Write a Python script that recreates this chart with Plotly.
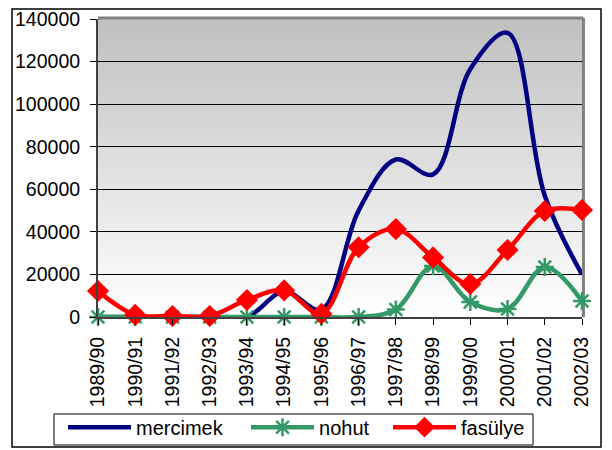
import plotly.graph_objects as go

# --- data ---
seasons = ['1989/90', '1990/91', '1991/92', '1992/93', '1993/94', '1994/95', '1995/96',
           '1996/97', '1997/98', '1998/99', '1999/00', '2000/01', '2001/02', '2002/03']
mercimek = [0, 0, 0, 0, 0, 12000, 3500, 50000, 74000, 67000, 116500, 133500, 57000, 20000]
nohut = [0, 0, 0, 0, 0, 0, 0, 0, 3500, 24000, 7000, 3800, 23500, 7500]
fasulye = [12200, 1000, 500, 500, 8000, 12500, 1500, 32800, 41300, 28000, 15500, 31500, 49800, 50300]

y_ticks = [0, 20000, 40000, 60000, 80000, 100000, 120000, 140000]

FONT = 'Liberation Sans, Arial, sans-serif'

fig = go.Figure()

fig.add_trace(go.Scatter(
    x=seasons, y=mercimek, name='mercimek', mode='lines', legend='legend',
    line=dict(color='#000080', width=4.5, shape='spline', smoothing=1),
    cliponaxis=False,
))
fig.add_trace(go.Scatter(
    x=seasons, y=nohut, name='nohut', mode='lines+markers', legend='legend2',
    line=dict(color='#339966', width=4.5, shape='spline', smoothing=1),
    marker=dict(symbol='asterisk-open', size=15, line=dict(color='#339966', width=2.5)),
    cliponaxis=False,
))
fig.add_trace(go.Scatter(
    x=seasons, y=fasulye, name='fasülye', mode='lines+markers', legend='legend3',
    line=dict(color='#ff0000', width=4.5, shape='spline', smoothing=1),
    marker=dict(symbol='diamond', size=17, color='#ff0000'),
    cliponaxis=False,
))

# gradient plot background (grey at the top, fading to white at the bottom)
shapes = []
n_bands = 80
for i in range(n_bands):
    t = i / (n_bands - 1)
    c = int(round(255 - (255 - 192) * t))
    shapes.append(dict(
        type='rect', xref='x domain', yref='y domain', layer='below',
        x0=0, x1=1, y0=i / n_bands, y1=(i + 1) / n_bands + 0.002,
        fillcolor=f'rgb({c},{c},{c})', line=dict(width=0),
    ))
# grey frame round the plot area
shapes.append(dict(type='line', xref='paper', yref='paper', layer='below',
                   x0=0, x1=1.003, y0=1.003, y1=1.003, line=dict(color='#808080', width=3)))
shapes.append(dict(type='line', xref='paper', yref='paper', layer='below',
                   x0=1.003, x1=1.003, y0=0, y1=1.003, line=dict(color='#808080', width=3)))
# outer chart border
shapes.append(dict(type='rect', xref='paper', yref='paper',
                   x0=-0.1777, x1=1.0393, y0=-0.4362, y1=1.0336,
                   line=dict(color='black', width=1.5)))
# legend box (three separate legends sit inside it)
shapes.append(dict(type='rect', xref='paper', yref='paper',
                   x0=-0.0909, x1=0.8988, y0=-0.4295, y1=-0.3255,
                   fillcolor='white', line=dict(color='black', width=1)))

leg_common = dict(
    orientation='h', yanchor='middle', y=-0.3696, xanchor='left',
    bgcolor='rgba(0,0,0,0)', borderwidth=0,
    font=dict(family=FONT, size=20, color='black'),
    itemwidth=63,
)

fig.update_layout(
    width=612, height=450,
    margin=dict(l=90, r=38, t=11, b=141, autoexpand=False),
    paper_bgcolor='white',
    plot_bgcolor='white',
    font=dict(family=FONT, size=19.5, color='black'),
    showlegend=True,
    legend=dict(x=-0.0723, **leg_common),
    legend2=dict(x=0.3058, **leg_common),
    legend3=dict(x=0.5992, **leg_common),
    xaxis=dict(
        type='category', range=[0, len(seasons) - 1], automargin=False,
        showline=True, linecolor='#404040', linewidth=2,
        ticks='outside', ticklen=6, tickcolor='black',
        tickangle=-90, ticklabelstandoff=4,
        showgrid=False,
    ),
    yaxis=dict(
        range=[0, 140000], tickvals=y_ticks, ticktext=[str(v) for v in y_ticks],
        automargin=False, ticklabeloverflow='allow',
        showline=True, linecolor='#404040', linewidth=2,
        ticks='outside', ticklen=6, tickcolor='black', ticklabelstandoff=6,
        showgrid=True, gridcolor='black', gridwidth=1,
        zeroline=False,
    ),
    shapes=shapes,
)

fig.write_html('out.html')
